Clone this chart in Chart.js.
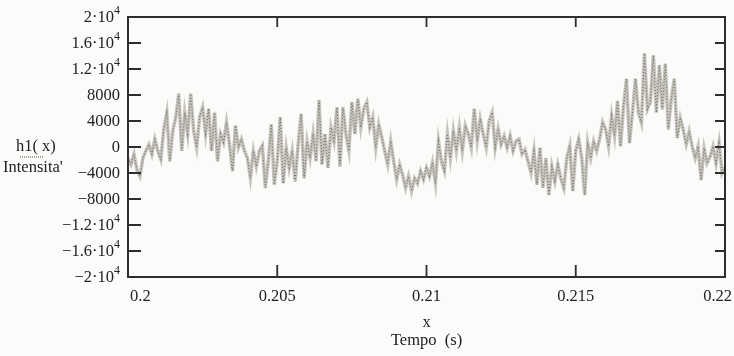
<!DOCTYPE html>
<html>
<head>
<meta charset="utf-8">
<script src="https://cdn.jsdelivr.net/npm/chart.js@4"></script>
<style>
  html, body { margin: 0; padding: 0; background: #fbfbf9; }
  canvas { display: block; }
</style>
</head>
<body>
<canvas id="waveChart" width="734" height="356"></canvas>
<script>
// signal samples h1(x), one every 0.1 ms from 0.2 s to 0.22 s
const h1 = [
  -1700, -2700, -1100, -3500, -4500, -1700, -600, 400, -1100, 1200,
  -600, -1900, 2800, 5300, -2200, 2500, 4600, 8200, -600, 5300,
  2000, 8200, 2500, -100, 4600, 6100, 2000, 5900, -600, 5300,
  -2200, 2000, 700, 3800, 400, -3700, 3300, -100, 1200, -600,
  -1700, -4800, -600, -3000, -600, 200, -6300, -2200, 3500, -5800,
  -2200, 4600, -5600, -100, -3200, -600, -5300, 400, 5100, -4800,
  900, -1700, 2000, -2200, 7200, -2700, 2000, -3200, 3000, 900,
  6100, -3000, 6100, 2000, -600, 6900, 2000, 7400, 3000, 5900,
  6900, 3000, 4600, -100, 3500, 1500, -600, -2700, 900, -2200,
  -5000, -2700, -4300, -6300, -4500, -6800, -4800, -5600, -3700, -5000,
  -3200, -4500, -2400, -5600, 900, -2200, -3700, 2000, -1700, 2500,
  -600, 3000, -600, 3300, 2000, -100, 5900, 900, 4300, 2000,
  -100, 4000, 5300, -100, 2800, 400, 1700, -100, 1700, -600,
  900, 1200, -1100, -400, -2200, -4000, -600, -5800, -100, -6300,
  -1700, -7400, -3000, -5300, -2700, -4800, -6300, -1700, 200, -6800,
  -600, 1200, -1700, -7400, 700, -1700, 900, -600, 1200, 3800,
  2700, 100, 4800, 1700, 7100, 100, 6300, 10500, 600, 5300,
  10500, 5300, 3700, 14400, 5800, 6900, 14100, 5300, 12600, 5800,
  12800, 2700, 7400, 10500, 1400, 4500, 2700, 400, 2400, 100,
  -1700, 100, -5100, -200, -2500, -1500, 100, -2500, 600, -4000,
  -3000
];
const tStart = 0.2;
const tStep = 0.0001;

const xTicks = [0.2, 0.205, 0.21, 0.215, 0.22];
const xTickLabels = ["0.2", "0.205", "0.21", "0.215", "0.22"];
const yTicks = [20000, 16000, 12000, 8000, 4000, 0, -4000, -8000, -12000, -16000, -20000];
// [mantissa, exponent] ; exponent null means plain number
const yTickLabels = [
  ["2", 4], ["1.6", 4], ["1.2", 4], ["8000", null], ["4000", null], ["0", null],
  ["\u22124000", null], ["\u22128000", null], ["\u22121.2", 4], ["\u22121.6", 4], ["\u22122", 4]
];

const points = h1.map((v, i) => ({ x: tStart + i * tStep, y: v }));

const FONT = "'Liberation Serif', 'DejaVu Serif', serif";
const INK = "#222222";
const FS = 16.5;

function drawSci(ctx, lab, x, y) {
  let supW = 0;
  if (lab[1] !== null) {
    ctx.font = "12px " + FONT;
    supW = ctx.measureText(String(lab[1])).width;
  }
  ctx.font = FS + "px " + FONT;
  const main = lab[1] === null ? lab[0] : lab[0] + "\u00b710";
  const mainW = ctx.measureText(main).width;
  ctx.textAlign = "left";
  ctx.textBaseline = "middle";
  ctx.fillText(main, x - supW - mainW, y + 1);
  if (lab[1] !== null) {
    ctx.font = "12px " + FONT;
    ctx.fillText(String(lab[1]), x - supW, y - 6);
  }
}

const mathcadFrame = {
  id: "mathcadFrame",
  afterDraw(chart) {
    const { ctx, chartArea: a, scales } = chart;
    const xs = scales.x, ys = scales.y;
    ctx.save();
    ctx.strokeStyle = "#2e2e2e";
    ctx.lineWidth = 2;
    ctx.strokeRect(a.left, a.top, a.right - a.left, a.bottom - a.top);

    // inner ticks
    ctx.lineWidth = 1.8;
    ctx.beginPath();
    yTicks.forEach(v => {
      const py = ys.getPixelForValue(v);
      ctx.moveTo(a.left, py); ctx.lineTo(a.left + 13, py);
      ctx.moveTo(a.right, py); ctx.lineTo(a.right - 10, py);
    });
    xTicks.forEach(v => {
      const px = xs.getPixelForValue(v);
      ctx.moveTo(px, a.bottom); ctx.lineTo(px, a.bottom - 12);
      ctx.moveTo(px, a.top); ctx.lineTo(px, a.top + 10);
    });
    ctx.stroke();

    ctx.fillStyle = INK;
    yTicks.forEach((v, i) => {
      drawSci(ctx, yTickLabels[i], a.left - 8, ys.getPixelForValue(v));
    });
    ctx.font = FS + "px " + FONT;
    ctx.textBaseline = "middle";
    xTicks.forEach((v, i) => {
      const px = xs.getPixelForValue(v);
      const last = i === xTicks.length - 1;
      ctx.textAlign = i === 0 ? "left" : (last ? "right" : "center");
      ctx.fillText(xTickLabels[i], px + (i === 0 ? 2 : 0) + (last ? 7 : 0), a.bottom + 20);
    });
    ctx.textAlign = "center";
    const midX = (a.left + a.right) / 2;
    ctx.fillText("x", midX, a.bottom + 46);
    ctx.fillText("Tempo  (s)", midX, a.bottom + 64);

    ctx.textAlign = "left";
    const y0 = ys.getPixelForValue(0);
    ctx.fillText("h1( x)", 16, y0);
    ctx.fillText("Intensita'", 3, y0 + 21);
    // legend line sample
    ctx.strokeStyle = "#8a8880";
    ctx.lineWidth = 1.5;
    ctx.setLineDash([1, 1]);
    ctx.beginPath();
    ctx.moveTo(20, y0 + 10);
    ctx.lineTo(44, y0 + 10);
    ctx.stroke();
    ctx.restore();
  }
};

new Chart(document.getElementById("waveChart").getContext("2d"), {
  type: "line",
  data: {
    datasets: [
      {
        label: "h1(x)",
        data: points,
        borderColor: "#c6c4bc",
        borderWidth: 3.5,
        pointRadius: 0,
        tension: 0,
        order: 1,
      },
      {
        label: "h1(x) dots",
        data: points,
        borderColor: "#74736c",
        borderWidth: 1.1,
        borderDash: [1.1, 1.9],
        pointRadius: 0,
        tension: 0,
        order: 0,
      },
    ],
  },
  options: {
    responsive: false,
    animation: false,
    layout: { padding: { left: 128, top: 17, right: 9, bottom: 79 } },
    plugins: { legend: { display: false }, tooltip: { enabled: false } },
    scales: {
      x: { type: "linear", min: 0.2, max: 0.22, display: false },
      y: { type: "linear", min: -20000, max: 20000, display: false },
    },
  },
  plugins: [mathcadFrame],
});
</script>
</body>
</html>
